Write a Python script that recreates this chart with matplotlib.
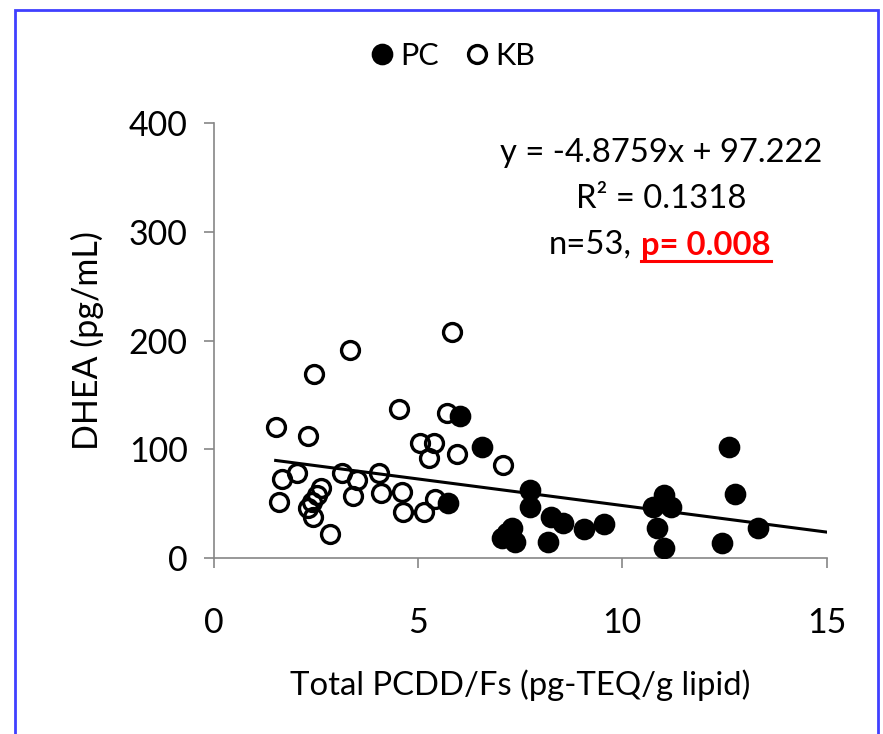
import matplotlib.pyplot as plt
from matplotlib.patches import Rectangle

# PC (filled) group
pc_x = [5.74, 6.03, 6.57, 7.05, 7.17, 7.29, 7.37, 7.74, 7.74, 8.17, 8.25, 8.54,
        9.07, 9.55, 10.76, 10.84, 11.02, 11.19, 11.03, 12.43, 12.60, 12.76, 13.32]
pc_y = [50.5, 130.7, 102.5, 18.4, 23.2, 27.5, 15.2, 62.7, 46.8, 15.2, 37.6, 32.1,
        26.9, 31.5, 47.4, 27.5, 58.1, 47.1, 9.7, 13.8, 102.5, 59.0, 28.1]

# KB (open) group
kb_x = [5.82, 3.33, 2.46, 1.51, 2.29, 4.52, 5.70, 5.05, 5.39, 5.27, 5.94, 7.07,
        2.03, 1.67, 3.13, 4.05, 3.49, 3.41, 4.08, 4.60, 4.64, 5.14, 5.40, 1.60,
        2.61, 2.52, 2.39, 2.31, 2.42, 2.84]
kb_y = [208.1, 191.3, 169.0, 120.8, 112.3, 136.8, 133.1, 106.2, 105.6, 91.8, 95.8, 85.7,
        78.6, 72.8, 78.1, 78.1, 71.9, 57.5, 59.7, 61.2, 42.2, 42.2, 54.5, 51.4,
        64.3, 58.1, 52.0, 45.9, 38.2, 22.3]

slope, intercept = -4.8759, 97.222
x_ticks = [0, 5, 10, 15]
y_ticks = [0, 100, 200, 300, 400]

plt.rcParams["font.family"] = ["Lato", "DejaVu Sans"]
grey = "#868686"
W, H = 883, 734

fig = plt.figure(figsize=(8.83, 7.34), dpi=100)
ax = fig.add_axes([214 / W, 1 - 558.3 / H, (826.5 - 214) / W, (558.3 - 122.7) / H])

ax.plot(pc_x, pc_y, "o", ms=13.2, mfc="black", mec="black", mew=2.4, label="PC", zorder=3)
ax.plot(kb_x, kb_y, "o", ms=12.9, mfc="none", mec="black", mew=2.4, label="KB", zorder=3)

x0 = min(pc_x + kb_x)
ax.plot([x0, 15], [slope * x0 + intercept, slope * 15 + intercept],
        color="black", lw=2.2, zorder=2)

ax.set_xlim(0, 15)
ax.set_ylim(0, 400)
ax.set_xticks(x_ticks)
ax.set_yticks(y_ticks)
ax.spines[["top", "right"]].set_visible(False)
for s in ["left", "bottom"]:
    ax.spines[s].set_color(grey)
    ax.spines[s].set_linewidth(1.2)
ax.tick_params(axis="both", direction="out", length=7, width=1.2, color=grey,
               labelsize=24.5, labelcolor="black")
ax.tick_params(axis="x", pad=28)
ax.tick_params(axis="y", pad=12)
ax.set_xlabel("Total PCDD/Fs (pg-TEQ/g lipid)", fontsize=23.7, labelpad=22)
ax.set_ylabel("DHEA (pg/mL)", fontsize=24.5, labelpad=18)

fig.legend(loc="center", bbox_to_anchor=(451 / W, 1 - 56 / H), ncol=2,
           frameon=False, fontsize=22, handletextpad=0.1, columnspacing=0.75,
           handlelength=1.0, markerscale=1.0)

# regression text
fs = 23.6
fig.text(661 / W, 1 - 153 / H, "y = -4.8759x + 97.222", ha="center", va="center", fontsize=fs)
fig.text(661 / W, 1 - 199 / H, "R² = 0.1318", ha="center", va="center", fontsize=fs)
fig.text(632 / W, 1 - 245 / H, "n=53,", ha="right", va="center", fontsize=fs)
ptxt = fig.text(641 / W, 1 - 245 / H, "p= 0.008", ha="left", va="center", fontsize=fs,
                color="red", fontweight="bold")
fig.canvas.draw()
bb = ptxt.get_window_extent().transformed(fig.transFigure.inverted())
fig.add_artist(plt.Line2D([bb.x0, bb.x1], [bb.y0 - 1.5 / H, bb.y0 - 1.5 / H],
                          color="red", lw=2.2, transform=fig.transFigure))

# blue frame
fig.add_artist(Rectangle((15 / W, -0.05), (878 - 15) / W, 1.05 - 10 / H,
                         transform=fig.transFigure, fill=False,
                         edgecolor="#4040ff", lw=2))

fig.savefig("out.png", dpi=100)
